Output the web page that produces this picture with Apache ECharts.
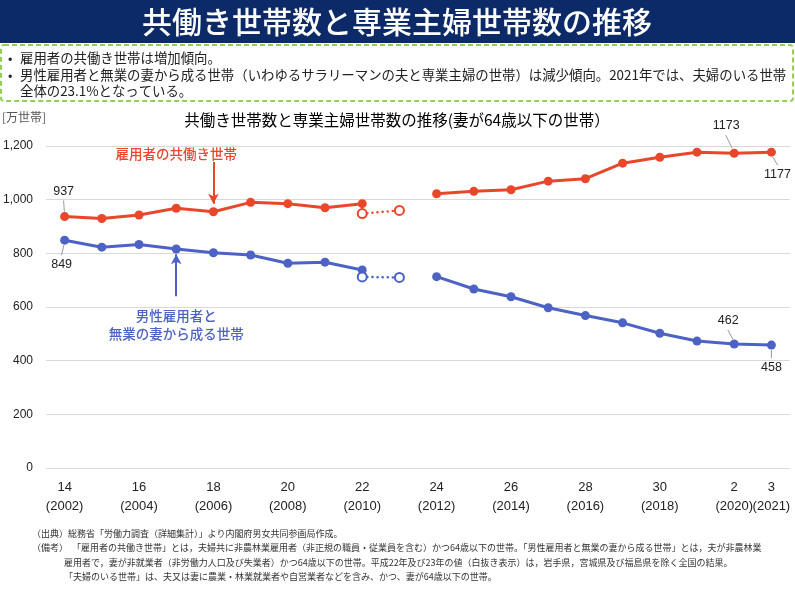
<!DOCTYPE html>
<html><head><meta charset="utf-8">
<script src="https://cdn.jsdelivr.net/npm/echarts@6/dist/echarts.min.js"></script>
<style>html,body{margin:0;padding:0;background:#fff;}#c{width:795px;height:590px;}</style>
</head><body><div id="c"></div>
<script>
// ---- data ----
const years = ['2002','2003','2004','2005','2006','2007','2008','2009','2010','2011','2012','2013','2014','2015','2016','2017','2018','2019','2020','2021'];
const tickLabels = ['14\n(2002)','','16\n(2004)','','18\n(2006)','','20\n(2008)','','22\n(2010)','','24\n(2012)','','26\n(2014)','','28\n(2016)','','30\n(2018)','','2\n(2020)','3\n(2021)'];
const yTicks = ['0','200','400','600','800','1,000','1,200'];
// 雇用者の共働き世帯
const dualIncome = [937, 930, 943, 968, 955, 990, 985, 970, 985, null, 1022, 1031, 1037, 1069, 1078, 1136, 1158, 1177, 1173, 1177];
const dualIncomeExcl = [null, null, null, null, null, null, null, null, 948, 960, null, null, null, null, null, null, null, null, null, null];
// 男性雇用者と無業の妻から成る世帯
const singleIncome = [849, 823, 833, 816, 802, 794, 763, 767, 738, null, 713, 667, 638, 597, 568, 541, 502, 473, 462, 458];
const singleIncomeExcl = [null, null, null, null, null, null, null, null, 712, 710, null, null, null, null, null, null, null, null, null, null];

const RED = '#e9472b';
const BLUE = '#4c62c4';
const FONT = '"Noto Sans CJK JP", "Noto Sans", sans-serif';

const chart = echarts.init(document.getElementById('c'), null, {renderer: 'canvas'});

function lineSeries(data, color, hollow) {
  return {
    type: 'line',
    data: data,
    symbol: 'circle',
    symbolSize: 9,
    showAllSymbol: true,
    connectNulls: false,
    lineStyle: hollow ? {color: color, width: 2.5, type: [0.1, 5], cap: 'round'} : {color: color, width: 3},
    itemStyle: hollow ? {color: '#fff', borderColor: color, borderWidth: 2} : {color: color},
    emphasis: {disabled: true},
    z: hollow ? 3 : 2
  };
}

const option = {
  animation: false,
  textStyle: {fontFamily: FONT},
  grid: {left: 46, right: 5, top: 146, bottom: 122},
  xAxis: {
    type: 'category',
    data: years,
    boundaryGap: true,
    axisLine: {show: false},
    axisTick: {show: false},
    axisLabel: {
      interval: 0,
      margin: 10,
      color: '#222',
      fontSize: 13,
      lineHeight: 19,
      fontFamily: '"Liberation Sans Narrow", "Liberation Sans", sans-serif',
      formatter: (v, i) => tickLabels[i]
    }
  },
  yAxis: {
    type: 'value',
    min: 0, max: 1200, interval: 200,
    axisLine: {show: false},
    axisTick: {show: false},
    splitLine: {lineStyle: {color: '#d9d9d9', width: 1}},
    axisLabel: {
      color: '#222', fontSize: 12, margin: 13,
      fontFamily: '"Liberation Sans", sans-serif',
      formatter: (v) => yTicks[Math.round(v / 200)]
    }
  },
  series: [
    Object.assign(lineSeries(dualIncome, RED, false), {
      markLine: {
        silent: true, symbol: ['none', 'arrow'], symbolSize: [8, 10],
        lineStyle: {color: RED, width: 2, type: 'solid'}, label: {show: false},
        data: [[{coord: [3.55, 1140]}, {coord: [3.55, 985]}]]
      }
    }),
    lineSeries(dualIncomeExcl, RED, true),
    Object.assign(lineSeries(singleIncome, BLUE, false), {
      markLine: {
        silent: true, symbol: ['none', 'arrow'], symbolSize: [8, 10],
        lineStyle: {color: BLUE, width: 2, type: 'solid'}, label: {show: false},
        data: [[{coord: [3.47, 640]}, {coord: [3.47, 797]}]]
      }
    }),
    lineSeries(singleIncomeExcl, BLUE, true)
  ]
};
chart.setOption(option);

// ---- annotations positioned through the chart's own scales ----
function px(idx, val) { return chart.convertToPixel({gridIndex: 0}, [idx, val]); }
const g = [];
// banner
g.push({type: 'rect', shape: {x: 0, y: 0, width: 795, height: 43}, style: {fill: '#0c2a68'}, z: 10});
g.push({type: 'text', x: 397, y: 22, style: {text: '共働き世帯数と専業主婦世帯数の推移', fill: '#fff', font: '500 30px ' + FONT, align: 'center', verticalAlign: 'middle'}, z: 11});
// bullet box
g.push({type: 'rect', shape: {x: 1, y: 45, width: 792, height: 56, r: 3}, style: {fill: '#fff', stroke: '#93cf55', lineWidth: 2, lineDash: [5, 3]}, z: 10});
const bullets = [
  ['•', '雇用者の共働き世帯は増加傾向。', 58],
  ['•', '男性雇用者と無業の妻から成る世帯（いわゆるサラリーマンの夫と専業主婦の世帯）は減少傾向。2021年では、夫婦のいる世帯', 75],
  ['', '全体の23.1%となっている。', 91]
];
bullets.forEach(b => {
  if (b[0]) g.push({type: 'text', x: 8, y: b[2], style: {text: b[0], fill: '#222', font: '13px ' + FONT, verticalAlign: 'middle'}, z: 11});
  g.push({type: 'text', x: 20, y: b[2], style: {text: b[1], fill: '#222', font: '13.4px ' + FONT, verticalAlign: 'middle'}, z: 11});
});
// chart title and unit
g.push({type: 'text', x: 397, y: 120, style: {text: '共働き世帯数と専業主婦世帯数の推移(妻が64歳以下の世帯）', fill: '#000', font: '15.5px ' + FONT, align: 'center', verticalAlign: 'middle'}});
g.push({type: 'text', x: 2, y: 117, style: {text: '[万世帯]', fill: '#555', font: '12px ' + FONT, verticalAlign: 'middle'}});
// series names
let p = px(3.45, 1170);
g.push({type: 'text', x: p[0], y: p[1], style: {text: '雇用者の共働き世帯', fill: RED, font: '500 13.5px ' + FONT, align: 'center', verticalAlign: 'middle'}});
p = px(3.45, 602);
g.push({type: 'text', x: p[0], y: p[1], style: {text: '男性雇用者と\n無業の妻から成る世帯', fill: BLUE, font: '500 13.5px ' + FONT, align: 'center', verticalAlign: 'top', lineHeight: 18}});
// value labels with leader lines
const labels = [
  [0, dualIncome[0], -1, -18, 'bottom'],
  [0, singleIncome[0], -3, 17, 'top'],
  [18, dualIncome[18], -8, -20, 'bottom'],
  [19, dualIncome[19], 6, 15, 'top'],
  [18, singleIncome[18], -6, -16, 'bottom'],
  [19, singleIncome[19], 0, 15, 'top']
];
labels.forEach(l => {
  const q = px(l[0], l[1]);
  const lx = q[0] + l[2], ly = q[1] + l[3];
  const sgn = l[4] === 'bottom' ? 1 : -1;
  g.push({type: 'line', shape: {x1: q[0] + l[2] * 0.25, y1: q[1] - sgn * 5, x2: lx + l[2] * 0.05, y2: ly + sgn * 2}, style: {stroke: '#999', lineWidth: 1}});
  g.push({type: 'text', x: lx, y: ly + (sgn > 0 ? -1 : 1), style: {text: String(l[1]), fill: '#222', font: '12.5px "Liberation Sans", sans-serif', align: 'center', verticalAlign: l[4]}});
});
// notes
const notes = [
  [32, 534, '（出典）総務省「労働力調査（詳細集計）」より内閣府男女共同参画局作成。'],
  [32, 548, '（備考）'],
  [72, 548, '「雇用者の共働き世帯」とは，夫婦共に非農林業雇用者（非正規の職員・従業員を含む）かつ64歳以下の世帯。「男性雇用者と無業の妻から成る世帯」とは，夫が非農林業'],
  [64, 563, '雇用者で，妻が非就業者（非労働力人口及び失業者）かつ64歳以下の世帯。平成22年及び23年の値（白抜き表示）は，岩手県，宮城県及び福島県を除く全国の結果。'],
  [64, 577, '「夫婦のいる世帯」は、夫又は妻に農業・林業就業者や自営業者などを含み、かつ、妻が64歳以下の世帯。']
];
notes.forEach(n => g.push({type: 'text', x: n[0], y: n[1], style: {text: n[2], fill: '#333', font: '9px ' + FONT, verticalAlign: 'middle'}}));
chart.setOption({graphic: {elements: g}});
</script></body></html>
